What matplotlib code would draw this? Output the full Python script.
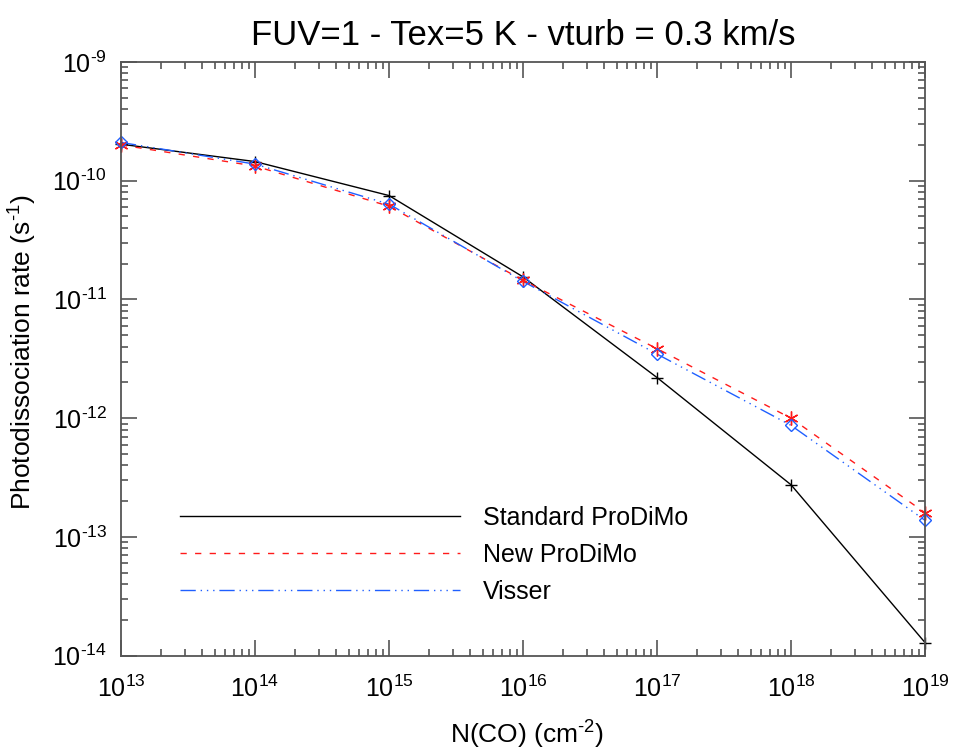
#!/usr/bin/python3
'''
Abstract:
    Plot the CO photodissociation rate against the CO column density
    for the standard ProDiMo, the new ProDiMo and the Visser rates.
Usage:
    plot.py
Output:
    out.png
'''
import numpy as np
from matplotlib import pyplot as plt
from matplotlib.ticker import LogLocator, FuncFormatter, NullFormatter

#--------------------------------------------
# Data
N_CO = [1e13, 1e14, 1e15, 1e16, 1e17, 1e18, 1e19]
rate_standard = [2.03e-10, 1.45e-10, 7.5e-11, 1.55e-11, 2.2e-12, 2.75e-13, 1.29e-14]
rate_new = [2.0e-10, 1.33e-10, 6.1e-11, 1.45e-11, 3.85e-12, 1.0e-12, 1.6e-13]
rate_visser = [2.1e-10, 1.38e-10, 6.35e-11, 1.42e-11, 3.47e-12, 8.7e-13, 1.38e-13]
labels = ["Standard ProDiMo", "New ProDiMo", "Visser"]
title = "FUV=1 - Tex=5 K - vturb = 0.3 km/s"
HYPHEN = "\u2010"

def log_label(v, pos):
    # 10^n with a short hyphen as in the original plot
    n = int(round(np.log10(v)))
    s = str(abs(n))
    if n < 0:
        s = HYPHEN + s
    return "$10^{" + s + "}$"

#--------------------------------------------
# Main code
if __name__ == "__main__":
    plt.rcParams['font.family'] = ['Liberation Sans', 'DejaVu Sans']
    plt.rcParams['mathtext.fontset'] = 'custom'
    plt.rcParams['mathtext.rm'] = 'Liberation Sans'
    plt.rcParams['mathtext.it'] = 'Liberation Sans'
    spine_col = '#555555'
    red = '#ff1a1a'
    blue = '#1f5fff'

    fig = plt.figure(figsize = (9.58, 7.53), dpi = 100)
    ax = fig.add_axes([0.1263, 0.1292, 0.8393, 0.7885])
    #-----------------------------------
    # lines
    ax.plot(N_CO, rate_standard, color = 'k', lw = 1.0, label = labels[0])
    ax.plot(N_CO, rate_new, color = red, lw = 1.0,
            linestyle = (0, (4.5, 6)), label = labels[1])
    ax.plot(N_CO, rate_visser, color = blue, lw = 1.0,
            linestyle = (0, (11, 3.5, 1, 3.5, 1, 3.5, 1, 3.5)), label = labels[2])
    # symbols
    ax.plot(N_CO, rate_standard, linestyle = 'none', marker = '+',
            ms = 9, mew = 1.0, color = 'k', clip_on = False)
    ax.plot(N_CO, rate_new, linestyle = 'none', marker = (6, 2, 0),
            ms = 10, mew = 1.0, color = red, clip_on = False)
    ax.plot(N_CO, rate_visser, linestyle = 'none', marker = 'D',
            ms = 6, mew = 1.0, mec = blue, mfc = 'none', clip_on = False)
    #-----------------------------------
    # axes
    ax.set_xscale('log')
    ax.set_yscale('log')
    ax.set_xlim(1e13, 1e19)
    ax.set_ylim(1e-14, 1e-9)
    ax.xaxis.set_major_locator(LogLocator(base = 10, numticks = 20))
    ax.yaxis.set_major_locator(LogLocator(base = 10, numticks = 20))
    ax.xaxis.set_major_formatter(FuncFormatter(log_label))
    ax.yaxis.set_major_formatter(FuncFormatter(log_label))
    ax.xaxis.set_minor_formatter(NullFormatter())
    ax.yaxis.set_minor_formatter(NullFormatter())
    for s in ax.spines.values():
        s.set_color(spine_col)
        s.set_linewidth(1.3)
    ax.tick_params(which = 'both', direction = 'in', top = True, right = True,
                   color = spine_col, width = 1.2, labelsize = 18)
    ax.tick_params(which = 'major', length = 11.5)
    ax.tick_params(which = 'minor', length = 5)
    ax.tick_params(axis = 'x', which = 'major', pad = 14)
    ax.tick_params(axis = 'y', which = 'major', pad = 10)
    ax.set_title(title, fontsize = 25, pad = 12)
    fig.text(0.550, 0.024, "N(CO) (cm$^{" + HYPHEN + "2}$)", fontsize = 19,
             ha = 'center', va = 'center')
    fig.text(0.024, 0.5325, "Photodissociation rate (s$^{" + HYPHEN + "1}$)",
             fontsize = 19, ha = 'center', va = 'center', rotation = 90)
    #-----------------------------------
    # legend
    ax.legend(loc = 'center left', bbox_to_anchor = (0.0734, 0.1696),
              frameon = False, fontsize = 18, handlelength = 11.2,
              handletextpad = 0.9, labelspacing = 0.52,
              borderpad = 0, borderaxespad = 0)
    plt.savefig("out.png", dpi = 100)
